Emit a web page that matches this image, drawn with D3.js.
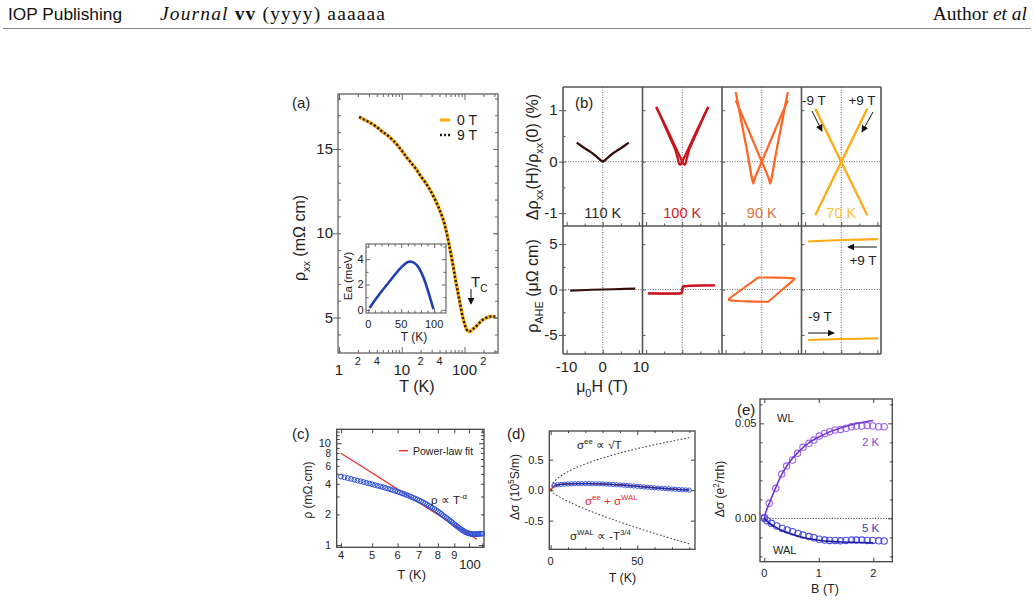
<!DOCTYPE html>
<html><head><meta charset="utf-8">
<script src="https://cdn.jsdelivr.net/npm/d3@7"></script>
<style>
body{margin:0;background:#fff}
svg{display:block}
text{font-family:"Liberation Sans",Arial,Helvetica,sans-serif}
</style></head>
<body><svg id="c" width="1034" height="602"></svg>
<script>
// ---------------- DATA ----------------
// (a) resistivity vs T
const aT      = [2.1,2.5,3,4,5,6,8,10,12,14,17,20,25,30,35,40,45,50,55,60,65,70,75,80,85,90,95,100,105,110,115,120,130,140,150,170,190,220,250,280,310];
const aRho0T  = [16.9,16.75,16.6,16.3,16.0,15.8,15.35,14.9,14.5,14.2,13.8,13.4,12.9,12.4,11.9,11.4,10.9,10.3,9.6,8.9,8.2,7.5,6.9,6.35,5.85,5.35,4.95,4.65,4.4,4.25,4.18,4.17,4.25,4.35,4.44,4.66,4.83,4.98,5.05,5.07,5.05];
const aRho9T  = [16.9,16.75,16.6,16.3,16.0,15.8,15.35,14.9,14.5,14.2,13.8,13.4,12.9,12.4,11.9,11.4,10.9,10.3,9.6,8.9,8.2,7.5,6.9,6.35,5.85,5.35,4.95,4.65,4.4,4.25,4.18,4.17,4.25,4.35,4.44,4.66,4.83,4.98,5.05,5.07,5.05];
const aXTickVals = [1,2,3,4,5,6,7,8,9,10,20,30,40,50,60,70,80,90,100,200,300];
const aXLabels = [[1,"1",1],[2,"2",0],[4,"4",0],[10,"10",1],[20,"2",0],[40,"4",0],[100,"100",1],[200,"2",0]];
const aYLabels = [5,10,15];
// (a) inset: activation energy
const eaT   = [2,10,20,30,40,50,60,65,70,75,80,85,90,95,99];
const eaVal = [0.15,0.75,1.45,2.1,2.75,3.35,3.78,3.8,3.7,3.45,3.0,2.4,1.6,0.75,0.05];

// (b) top: magnetoresistance (%) ; bottom: anomalous Hall (μΩ cm)
const bTemps  = ["110 K","100 K","90 K","70 K"];
const mr110H = [-7.2,-6,-5,-4,-3,-2,-1.5,-1,-0.5,0,0.5,1,1.5,2,3,4,5,6,7.2];
const mr110V = [0.37,0.31,0.26,0.215,0.17,0.115,0.085,0.055,0.02,0,0.02,0.055,0.085,0.115,0.17,0.215,0.26,0.31,0.37];
const mr100UpH = [-7.2,-6,-4,-2,-1.2,-0.8,-0.4,0,0.3,0.6,0.9,1.2,2,4,6,7.2];
const mr100UpV = [1.06,0.89,0.6,0.3,0.18,0.12,0.06,0.0,-0.04,-0.06,-0.04,0.05,0.25,0.56,0.88,1.06];
const mr100DnH = [7.2,6,4,2,1.2,0.8,0.4,0,-0.3,-0.6,-0.9,-1.2,-2,-4,-6,-7.2];
const mr100DnV = [1.06,0.89,0.6,0.3,0.18,0.12,0.06,0.0,-0.04,-0.06,-0.04,0.05,0.25,0.56,0.88,1.06];
const mr90DnH = [7.2,5,3,1,0,-1,-1.8,-2.1,-2.3,-2.5,-2.8,-4,-5.5,-7.2];
const mr90DnV = [1.19,0.83,0.5,0.165,0,-0.165,-0.3,-0.37,-0.42,-0.39,-0.3,0.19,0.73,1.35];
const mr90UpH = [-7.2,-5,-3,-1,0,1,1.8,2.1,2.3,2.5,2.8,4,5.5,7.2];
const mr90UpV = [1.19,0.83,0.5,0.165,0,-0.165,-0.3,-0.37,-0.42,-0.39,-0.3,0.19,0.73,1.35];
const mr70AH = [-7.2,7.2], mr70AV = [1.03,-1.04];
const mr70BH = [-7.2,7.2], mr70BV = [-1.04,1.03];

const ah110H = [-9,-6,-3,0,3,6,9];
const ah110V = [-0.12,-0.08,-0.03,0.0,0.04,0.07,0.1];
const ah100UpH = [-9.5,-6,-3,-1,-0.3,0,0.15,0.3,0.6,2,5,9];
const ah100UpV = [-0.42,-0.45,-0.45,-0.45,-0.43,-0.3,0.1,0.3,0.35,0.4,0.45,0.45];
const ah100DnH = [9,5,2,0.6,0.2,0,-0.1,-0.3,-1,-3,-6,-9.5];
const ah100DnV = [0.47,0.44,0.42,0.38,0.35,0.2,-0.2,-0.38,-0.42,-0.43,-0.44,-0.4];
const ah90DnH = [9.2,8,6,4,2,0,-0.95,-3,-5,-7,-9.3];
const ah90DnV = [1.22,1.26,1.3,1.31,1.32,1.33,1.33,0.74,0.17,-0.41,-1.07];
const ah90UpH = [-9.3,-8,-6,-4,-2,0,1.7,3,5,7,9.25];
const ah90UpV = [-1.15,-1.22,-1.27,-1.3,-1.33,-1.35,-1.37,-0.93,-0.25,0.43,1.2];
const ah70PH = [-9.2,-5,0,5,10.2], ah70PV = [5.3,5.38,5.45,5.5,5.55];
const ah70NH = [-9.2,-5,0,5,10.2], ah70NV = [-5.55,-5.5,-5.45,-5.42,-5.38];

// (c) log-log resistivity
const cT   = [40,41,42,43,44,45,46,47,48,49,50,51,52,53,54,55,56,57,58,59,60,61,62,63,64,65,66,67,68,69,70,71,72,73,74,75,76,77,78,79,80,81,82,83,84,85,86,87,88,89,90,91,92,93,94,95,96,97,98,99,100,101,102,103,104,105,106,107,108,109,110];
const cRho = [4.70,4.62,4.54,4.46,4.38,4.30,4.23,4.16,4.09,4.02,3.95,3.88,3.82,3.76,3.70,3.64,3.58,3.52,3.46,3.40,3.34,3.28,3.22,3.16,3.10,3.04,2.98,2.92,2.86,2.80,2.74,2.68,2.62,2.56,2.50,2.44,2.38,2.32,2.26,2.20,2.14,2.08,2.02,1.96,1.90,1.85,1.80,1.75,1.70,1.65,1.60,1.56,1.52,1.48,1.44,1.41,1.38,1.35,1.33,1.31,1.30,1.29,1.28,1.28,1.28,1.28,1.28,1.28,1.29,1.29,1.29];
const cFitT = [40,105.7], cFitRho = [7.97,1.14];
const cXLabels = [[40,"4"],[50,"5"],[60,"6"],[70,"7"],[80,"8"],[90,"9"]];
const cYLabels = [[10,"10"],[8,"8"],[6,"6"],[4,"4"],[2,"2"],[1,"1"]];

// (d) conductivity correction
const dT   = [2,4,6,8,10,12,14,16,18,20,22,24,26,28,30,32,34,36,38,40,42,44,46,48,50,52,54,56,58,60,62,64,66,68,70,72,74,76,78,80];
const dSig = [0.080,0.088,0.094,0.098,0.101,0.104,0.106,0.107,0.108,0.108,0.108,0.107,0.106,0.104,0.102,0.099,0.096,0.093,0.089,0.085,0.081,0.077,0.072,0.068,0.063,0.058,0.053,0.048,0.043,0.038,0.034,0.030,0.026,0.022,0.018,0.014,0.010,0.007,0.004,0.001];
const dFitT = [0,1,2,3,5,8,12,20,30,40,50,60,70,80];
const dFitV = [0,0.04,0.065,0.078,0.09,0.1,0.105,0.108,0.102,0.086,0.064,0.04,0.02,0.003];
const dThT  = [0,1,2.5,5,10,20,30,40,50,60,70,80];
const dEE   = [0,0.096,0.152,0.215,0.304,0.43,0.527,0.608,0.68,0.745,0.804,0.86];
const dWAL  = [0,-0.033,-0.065,-0.11,-0.185,-0.311,-0.421,-0.523,-0.619,-0.709,-0.796,-0.88];

// (e) magnetoconductance
const e2B = [0,0.09,0.21,0.32,0.41,0.52,0.61,0.71,0.82,0.91,1.01,1.11,1.2,1.3,1.4,1.5,1.6,1.69,1.79,1.89,1.99,2.1,2.2];
const e2V = [0.0005,0.0079,0.0158,0.0233,0.0275,0.0307,0.0342,0.0374,0.0395,0.0412,0.0433,0.0447,0.0456,0.0465,0.0468,0.0474,0.0482,0.0486,0.0486,0.0488,0.0486,0.0482,0.0482];
const e5B = [0,0.05,0.13,0.23,0.33,0.42,0.52,0.62,0.71,0.82,0.91,1.01,1.11,1.2,1.3,1.4,1.5,1.6,1.69,1.79,1.89,1.99,2.1,2.2];
const e5V = [0,-0.0012,-0.0026,-0.004,-0.0053,-0.0061,-0.007,-0.0079,-0.0088,-0.0096,-0.0102,-0.011,-0.0114,-0.0116,-0.0116,-0.0118,-0.0116,-0.0114,-0.0114,-0.0114,-0.0116,-0.0116,-0.0118,-0.0119];
const e2FitB = [0,0.02,0.05,0.1,0.2,0.3,0.4,0.5,0.6,0.7,0.8,0.9,1.0,1.2,1.4,1.6,1.8,2.0];
const e2FitV = [0,0.0025,0.005,0.0085,0.0155,0.022,0.027,0.031,0.0342,0.037,0.0393,0.0412,0.0428,0.0455,0.0476,0.0493,0.0505,0.0515];
const e5FitB = [0,0.05,0.1,0.2,0.3,0.4,0.6,0.8,1.0,1.2,1.4,1.6,1.8,2.0];
const e5FitV = [0,-0.0015,-0.0027,-0.0045,-0.006,-0.0072,-0.0092,-0.0106,-0.0115,-0.0121,-0.0124,-0.0126,-0.0127,-0.0128];

// ---------------- HELPERS ----------------
const S = d3.select("#c");
const defs = S.append("defs");
defs.append("marker").attr("id","arr").attr("viewBox","0 0 10 10").attr("refX",9).attr("refY",5)
  .attr("markerWidth",7).attr("markerHeight",7).attr("markerUnits","userSpaceOnUse").attr("orient","auto")
  .append("path").attr("d","M0,0 L10,5 L0,10 z").attr("fill","#111");

function rich(g, x, y, parts, o = {}) {
  const size = o.size || 12;
  const t = g.append("text").attr("x", x).attr("y", y).attr("font-size", size)
    .attr("text-anchor", o.anchor || "start").attr("fill", o.fill || "#222");
  if (o.rot) t.attr("transform", `rotate(-90,${x},${y})`);
  let cur = 0;
  parts.forEach(p => {
    const s = typeof p === "string" ? p : p[0];
    const type = typeof p === "string" ? null : p[1];
    const target = type === "sub" ? size * 0.32 : type === "sup" ? -size * 0.45 : 0;
    const sp = t.append("tspan").attr("dy", (target - cur).toFixed(2)).text(s);
    if (type) sp.attr("font-size", (size * 0.68).toFixed(1));
    cur = target;
  });
  return t;
}
function lab(g, x, y, s, size, anchor, fill) {
  return g.append("text").attr("x", x).attr("y", y).attr("font-size", size)
    .attr("text-anchor", anchor || "middle").attr("fill", fill || "#222").text(s);
}
function tk(g, scale, vals, orient, tx, ty, size, color, w) {
  const f = orient === "b" ? d3.axisBottom : orient === "t" ? d3.axisTop : orient === "l" ? d3.axisLeft : d3.axisRight;
  const gg = g.append("g").attr("transform", `translate(${tx},${ty})`)
    .call(f(scale).tickValues(vals).tickSize(size).tickFormat(""));
  gg.select(".domain").remove();
  gg.selectAll("line").attr("stroke", color || "#444").attr("stroke-width", w || 1);
}
function frame(g, x0, y0, x1, y1, color, w) {
  g.append("rect").attr("x", x0).attr("y", y0).attr("width", x1 - x0).attr("height", y1 - y0)
    .attr("fill", "none").attr("stroke", color || "#444").attr("stroke-width", w || 1.2);
}

// ---------------- HEADER ----------------
S.append("text").attr("x", 8).attr("y", 20).attr("font-size", 16.5).attr("fill", "#111")
  .attr("textLength", 114).attr("lengthAdjust", "spacingAndGlyphs").text("IOP Publishing");
const jn = S.append("text").attr("x", 160).attr("y", 20).attr("font-size", 19.5).attr("fill", "#111")
  .attr("textLength", 225).attr("lengthAdjust", "spacing")
  .style("font-family", '"Liberation Serif","DejaVu Serif",serif');
jn.append("tspan").attr("font-style", "italic").text("Journal ");
jn.append("tspan").attr("font-weight", "bold").text("vv");
jn.append("tspan").text(" (yyyy) aaaaaa");
const au = S.append("text").attr("x", 1027).attr("y", 20).attr("font-size", 19.5).attr("text-anchor", "end").attr("fill", "#111")
  .style("font-family", '"Liberation Serif","DejaVu Serif",serif');
au.append("tspan").text("Author ");
au.append("tspan").attr("font-style", "italic").text("et al");
S.append("line").attr("x1", 3).attr("x2", 1031).attr("y1", 28.5).attr("y2", 28.5).attr("stroke", "#888").attr("stroke-width", 1);

// ---------------- PANEL (a) ----------------
const ga = S.append("g");
const ax = d3.scaleLog().domain([1, 330]).range([339, 497]);
const ay = d3.scaleLinear().domain([2.9, 18.26]).range([353, 94]);
frame(ga, 338, 94, 498, 353, "#777", 1.5);
const aMinorX = aXTickVals.filter(v => ![1, 10, 100].includes(v));
tk(ga, ax, [1, 10, 100], "b", 0, 353, -6, "#666");
tk(ga, ax, aMinorX, "b", 0, 353, -3, "#666");
tk(ga, ax, [1, 10, 100], "t", 0, 94, -6, "#666");
tk(ga, ax, aMinorX, "t", 0, 94, -3, "#666");
const aYMinor = [3,4,5,6,7,8,9,10,11,12,13,14,15,16,17,18];
tk(ga, ay, aYLabels, "l", 338, 0, 5, "#666");
tk(ga, ay, aYMinor, "l", 338, 0, -3, "#666");
tk(ga, ay, aYMinor, "r", 498, 0, -3, "#666");
tk(ga, ay, aYLabels, "r", 498, 0, -5, "#666");
aYLabels.forEach(v => lab(ga, 333, ay(v) + 5.2, String(v), 15, "end"));
aXLabels.forEach(([v, s, big]) => big ? lab(ga, ax(v), 375, s, 15) : lab(ga, ax(v), 365, s, 11));
lab(ga, 417, 392, "T (K)", 16);
rich(ga, 305, 238, ["ρ", ["xx", "sub"], " (mΩ cm)"], { size: 16, anchor: "middle", rot: true });
lab(ga, 292, 108, "(a)", 15, "start");

const aLine = d3.line().x(d => ax(d[0])).y(d => ay(d[1])).curve(d3.curveCatmullRom);
ga.append("path").attr("d", aLine(d3.zip(aT, aRho0T))).attr("fill", "none").attr("stroke", "#ffa70f").attr("stroke-width", 3.4);
ga.append("path").attr("d", aLine(d3.zip(aT, aRho9T))).attr("fill", "none").attr("stroke", "#1a1a1a").attr("stroke-width", 2.4).attr("stroke-dasharray", "2,2.2");
// legend
ga.append("line").attr("x1", 440).attr("x2", 450).attr("y1", 120).attr("y2", 120).attr("stroke", "#ffa70f").attr("stroke-width", 3);
lab(ga, 457, 124.5, "0 T", 14, "start");
ga.append("line").attr("x1", 440).attr("x2", 451).attr("y1", 135).attr("y2", 135).attr("stroke", "#1a1a1a").attr("stroke-width", 2.6).attr("stroke-dasharray", "2,2");
lab(ga, 457, 140, "9 T", 14, "start");
// Tc
rich(ga, 471, 287, ["T", ["C", "sub"]], { size: 15 });
ga.append("line").attr("x1", 471).attr("x2", 471).attr("y1", 289).attr("y2", 304).attr("stroke", "#111").attr("stroke-width", 1).attr("marker-end", "url(#arr)");

// inset
const ix = d3.scaleLinear().domain([-3.5, 118]).range([366, 446]);
const iy = d3.scaleLinear().domain([-0.25, 5.2]).range([313, 244]);
ga.append("rect").attr("x", 366).attr("y", 244).attr("width", 80).attr("height", 69).attr("fill", "#fff").attr("stroke", "#777").attr("stroke-width", 1.3);
tk(ga, ix, [0, 50, 100], "b", 0, 313, -4, "#666");
tk(ga, ix, [10, 20, 30, 40, 60, 70, 80, 90, 110], "b", 0, 313, -2.5, "#666");
tk(ga, ix, [0, 50, 100], "t", 0, 244, -4, "#666");
tk(ga, ix, [10, 20, 30, 40, 60, 70, 80, 90, 110], "t", 0, 244, -2.5, "#666");
tk(ga, iy, [0, 2, 4], "l", 366, 0, -4, "#666");
tk(ga, iy, [1, 3, 5], "l", 366, 0, -2.5, "#666");
tk(ga, iy, [0, 2, 4], "r", 446, 0, -4, "#666");
tk(ga, iy, [1, 3, 5], "r", 446, 0, -2.5, "#666");
[0, 2, 4].forEach(v => lab(ga, 363.5, iy(v) + 3.8, String(v), 11, "end"));
[0, 50, 100].forEach(v => lab(ga, ix(v), 328, String(v), 11));
lab(ga, 414, 341, "T (K)", 12);
lab(ga, 0, 0, "Ea (meV)", 11.5).attr("transform", "translate(352,276) rotate(-90)");
ga.append("path").attr("d", d3.line().x(d => ix(d[0])).y(d => iy(d[1])).curve(d3.curveCatmullRom)(d3.zip(eaT, eaVal)))
  .attr("fill", "none").attr("stroke", "#1f3fb3").attr("stroke-width", 2.6);

// ---------------- PANEL (b) ----------------
const gb = S.append("g");
const bL = [563, 642.5, 722, 801.5], bW = 79.5, bR = 881;
const bTop = d3.scaleLinear().domain([-1.25, 1.45]).range([226, 87]);
const bBot = d3.scaleLinear().domain([-7.1, 7.0]).range([354, 226]);
const bColors = ["#3a0d0d", "#c8161e", "#ff6524", "#ffab14"];
const bLabelColors = ["#2a2a2a", "#cc1d2a", "#d9743a", "#ffbf3a"];
const bX = bL.map(L => d3.scaleLinear().domain([-11, 11]).range([L, L + bW]));
const mrSets = [
  [[mr110H, mr110V]],
  [[mr100UpH, mr100UpV], [mr100DnH, mr100DnV]],
  [[mr90DnH, mr90DnV], [mr90UpH, mr90UpV]],
  [[mr70AH, mr70AV], [mr70BH, mr70BV]]
];
const ahSets = [
  [[ah110H, ah110V]],
  [[ah100UpH, ah100UpV], [ah100DnH, ah100DnV]],
  [[ah90DnH, ah90DnV], [ah90UpH, ah90UpV]],
  [[ah70PH, ah70PV], [ah70NH, ah70NV]]
];
bX.forEach((xs, i) => {
  gb.append("line").attr("x1", xs(0)).attr("x2", xs(0)).attr("y1", 87).attr("y2", 354).attr("stroke", "#555").attr("stroke-width", 0.9).attr("stroke-dasharray", "1,1.5");
  gb.append("line").attr("x1", xs(-11)).attr("x2", xs(11)).attr("y1", bTop(0)).attr("y2", bTop(0)).attr("stroke", "#555").attr("stroke-width", 0.9).attr("stroke-dasharray", "1,1.5");
  gb.append("line").attr("x1", xs(-11)).attr("x2", xs(11)).attr("y1", bBot(0)).attr("y2", bBot(0)).attr("stroke", "#555").attr("stroke-width", 0.9).attr("stroke-dasharray", "1,1.5");
  tk(gb, xs, [-10, 0, 10], "b", 0, 354, -4, "#555");
  tk(gb, xs, [-5, 5], "b", 0, 354, -2.5, "#555");
  tk(gb, xs, [-10, 0, 10], "b", 0, 226, -4, "#555");
  tk(gb, xs, [-5, 5], "b", 0, 226, -2.5, "#555");
  tk(gb, bTop, [-1, 0, 1], "r", bL[i], 0, 3, "#555");
  tk(gb, bBot, [-5, 0, 5], "r", bL[i], 0, 3, "#555");
  const top = d3.line().x(d => xs(d[0])).y(d => bTop(d[1]));
  const bot = d3.line().x(d => xs(d[0])).y(d => bBot(d[1]));
  mrSets[i].forEach(([h, v]) => gb.append("path").attr("d", top(d3.zip(h, v))).attr("fill", "none").attr("stroke", bColors[i]).attr("stroke-width", 2.3).attr("stroke-linejoin", "round"));
  ahSets[i].forEach(([h, v]) => gb.append("path").attr("d", bot(d3.zip(h, v))).attr("fill", "none").attr("stroke", bColors[i]).attr("stroke-width", 2.1).attr("stroke-linejoin", "round"));
  lab(gb, xs(0), 218, bTemps[i], 14.5, "middle", bLabelColors[i]);
});
gb.append("line").attr("x1", bL[0]).attr("x2", bR).attr("y1", 87).attr("y2", 87).attr("stroke", "#555").attr("stroke-width", 1.5);
gb.append("line").attr("x1", bL[0]).attr("x2", bR).attr("y1", 226).attr("y2", 226).attr("stroke", "#555").attr("stroke-width", 1.5);
gb.append("line").attr("x1", bL[0]).attr("x2", bR).attr("y1", 354).attr("y2", 354).attr("stroke", "#555").attr("stroke-width", 1.5);
bL.concat([bR]).forEach(x => gb.append("line").attr("x1", x).attr("x2", x).attr("y1", 87).attr("y2", 354).attr("stroke", "#555").attr("stroke-width", 1.6));
tk(gb, bTop, [-1, 0, 1], "l", bL[0], 0, 4, "#555");
tk(gb, bTop, [-0.5, 0.5], "l", bL[0], 0, -2.5, "#555");
tk(gb, bBot, [-5, 0, 5], "l", bL[0], 0, 4, "#555");
tk(gb, bBot, [-2.5, 2.5], "l", bL[0], 0, -2.5, "#555");
[1, 0, -1].forEach(v => lab(gb, 557.5, bTop(v) + 5.2, String(v), 15, "end"));
[5, 0, -5].forEach(v => lab(gb, 557.5, bBot(v) + 5.2, String(v), 15, "end"));
[-10, 0, 10].forEach(v => lab(gb, bX[0](v) + (v === 10 ? 2 : 0), 372, String(v), 15));
rich(gb, 602, 392, ["μ", ["0", "sub"], "H (T)"], { size: 16, anchor: "middle" });
rich(gb, 538, 157, ["Δρ", ["xx", "sub"], "(H)/ρ", ["xx", "sub"], "(0) (%)"], { size: 16, anchor: "middle", rot: true });
rich(gb, 538, 286, ["ρ", ["AHE", "sub"], " (μΩ cm)"], { size: 16, anchor: "middle", rot: true });
lab(gb, 575, 108, "(b)", 15, "start");
lab(gb, 814, 105, "-9 T", 13.5);
lab(gb, 862, 105, "+9 T", 13.5);
gb.append("line").attr("x1", 812).attr("y1", 111).attr("x2", 822).attr("y2", 131).attr("stroke", "#111").attr("stroke-width", 1).attr("marker-end", "url(#arr)");
gb.append("line").attr("x1", 873).attr("y1", 112).attr("x2", 862).attr("y2", 132).attr("stroke", "#111").attr("stroke-width", 1).attr("marker-end", "url(#arr)");
gb.append("line").attr("x1", 877).attr("y1", 247).attr("x2", 848).attr("y2", 247).attr("stroke", "#111").attr("stroke-width", 1).attr("marker-end", "url(#arr)");
lab(gb, 863, 265, "+9 T", 13.5);
lab(gb, 820, 321, "-9 T", 13.5);
gb.append("line").attr("x1", 808).attr("y1", 333).attr("x2", 834).attr("y2", 333).attr("stroke", "#111").attr("stroke-width", 1).attr("marker-end", "url(#arr)");

// ---------------- PANEL (c) ----------------
const gc = S.append("g");
const cx = d3.scaleLog().domain([38.8, 111.3]).range([336.7, 484]);
const cy = d3.scaleLog().domain([0.95, 13.7]).range([547.3, 429.3]);
frame(gc, 336.7, 429.3, 484, 547.3, "#444", 1.3);
const cXT = [40, 50, 60, 70, 80, 90, 100, 110];
tk(gc, cx, cXT, "b", 0, 547.3, -4);
tk(gc, cx, cXT, "t", 0, 429.3, -4);
tk(gc, cy, [1, 10], "l", 336.7, 0, -5);
tk(gc, cy, [2, 3, 4, 5, 6, 7, 8, 9, 11, 12, 13], "l", 336.7, 0, -3);
tk(gc, cy, [1, 10], "r", 484, 0, -5);
tk(gc, cy, [2, 3, 4, 5, 6, 7, 8, 9, 11, 12, 13], "r", 484, 0, -3);
cYLabels.forEach(([v, s]) => lab(gc, 331, cy(v) + 3.8, s, (v === 8 || v === 6) ? 10 : 11, "end"));
cXLabels.forEach(([v, s]) => lab(gc, cx(v), 558.5, s, 11));
lab(gc, 470, 568.5, "100", 13);
lab(gc, 411.7, 579, "T (K)", 13);
rich(gc, 312, 490, ["ρ (mΩ·cm)"], { size: 12, anchor: "middle", rot: true });
lab(gc, 292, 439, "(c)", 15, "start");
gc.append("path").attr("d", d3.line().x(d => cx(d[0])).y(d => cy(d[1]))(d3.zip(cFitT, cFitRho))).attr("stroke", "#ee2c2c").attr("stroke-width", 1.3).attr("fill", "none");
gc.selectAll("circle.c").data(d3.zip(cT, cRho)).join("circle").attr("class", "c")
  .attr("cx", d => cx(d[0])).attr("cy", d => cy(d[1])).attr("r", 2.4)
  .attr("fill", "none").attr("stroke", "#2a4fd6").attr("stroke-width", 1);
gc.append("line").attr("x1", 399).attr("x2", 408).attr("y1", 450.7).attr("y2", 450.7).attr("stroke", "#ee2c2c").attr("stroke-width", 1.4);
lab(gc, 413, 454.5, "Power-law fit", 10.5, "start");
rich(gc, 431, 504, ["ρ ∝ T", ["-α", "sup"]], { size: 11.5 });

// ---------------- PANEL (d) ----------------
const gd = S.append("g");
const dx = d3.scaleLinear().domain([-0.8, 83.3]).range([549.3, 695]);
const dy = d3.scaleLinear().domain([-0.97, 0.97]).range([549.3, 431]);
frame(gd, 549.3, 431, 695, 549.3, "#444", 1.3);
tk(gd, dx, [0, 50], "b", 0, 549.3, -4);
tk(gd, dx, [10, 20, 30, 40, 60, 70, 80], "b", 0, 549.3, -2);
tk(gd, dx, [0, 50], "t", 0, 431, -4);
tk(gd, dx, [10, 20, 30, 40, 60, 70, 80], "t", 0, 431, -2);
tk(gd, dy, [-0.5, 0, 0.5], "l", 549.3, 0, -4);
tk(gd, dy, [-0.5, 0, 0.5], "r", 695, 0, -4);
[[0.5, "0.5"], [0, "0.0"], [-0.5, "-0.5"]].forEach(([v, s]) => lab(gd, 543.5, dy(v) + 4, s, 11, "end"));
[0, 50].forEach(v => lab(gd, dx(v), 564.5, String(v), 11));
lab(gd, 622.5, 582, "T (K)", 12.5);
rich(gd, 519, 487, ["Δσ (10", ["5", "sup"], "S/m)"], { size: 12, anchor: "middle", rot: true });
lab(gd, 507, 439, "(d)", 15, "start");
const dLine = d3.line().x(d => dx(d[0])).y(d => dy(d[1])).curve(d3.curveMonotoneX);
gd.append("path").attr("d", dLine(d3.zip(dThT, dEE))).attr("fill", "none").attr("stroke", "#444").attr("stroke-width", 1.1).attr("stroke-dasharray", "1.6,2");
gd.append("path").attr("d", dLine(d3.zip(dThT, dWAL))).attr("fill", "none").attr("stroke", "#444").attr("stroke-width", 1.1).attr("stroke-dasharray", "1.6,2");
gd.append("path").attr("d", dLine(d3.zip(dFitT, dFitV))).attr("fill", "none").attr("stroke", "#e8262a").attr("stroke-width", 1.6);
gd.selectAll("circle.d").data(d3.zip(dT, dSig)).join("circle").attr("class", "d")
  .attr("cx", d => dx(d[0])).attr("cy", d => dy(d[1])).attr("r", 2.1)
  .attr("fill", "none").attr("stroke", "#3353e0").attr("stroke-width", 1);
gd.append("path").attr("d", dLine(d3.zip(dT, dSig))).attr("fill", "none").attr("stroke", "#1a2f9e").attr("stroke-width", 1.2);
rich(gd, 577, 449, ["σ", ["ee", "sup"], " ∝ √T"], { size: 11.5 });
rich(gd, 585, 505, ["σ", ["ee", "sup"], " + σ", ["WAL", "sup"]], { size: 11.5, fill: "#e8262a" });
rich(gd, 570, 540, ["σ", ["WAL", "sup"], " ∝ -T", ["3/4", "sup"]], { size: 11.5 });

// ---------------- PANEL (e) ----------------
const ge = S.append("g");
const ex = d3.scaleLinear().domain([-0.079, 2.35]).range([760, 892.3]);
const ey = d3.scaleLinear().domain([-0.0228, 0.0628]).range([561.7, 399]);
frame(ge, 760, 399, 892.3, 561.7, "#444", 1.3);
tk(ge, ex, [0, 1, 2], "b", 0, 561.7, -4);
tk(ge, ex, [0, 1, 2], "t", 0, 399, -4);
tk(ge, ey, [0, 0.05], "l", 760, 0, -4);
tk(ge, ey, [-0.02, -0.01, 0.01, 0.02, 0.03, 0.04, 0.06], "l", 760, 0, -2.5);
tk(ge, ey, [0, 0.05], "r", 892.3, 0, -4);
tk(ge, ey, [-0.02, -0.01, 0.01, 0.02, 0.03, 0.04, 0.06], "r", 892.3, 0, -2.5);
[[0.05, "0.05"], [0, "0.00"]].forEach(([v, s]) => lab(ge, 756.5, ey(v) + 4, s, 11, "end"));
[0, 1, 2].forEach(v => lab(ge, ex(v), 577, String(v), 11));
lab(ge, 825, 593, "B (T)", 12.5);
rich(ge, 724, 489, ["Δσ (e", ["2", "sup"], "/πh)"], { size: 12, anchor: "middle", rot: true });
lab(ge, 737, 415, "(e)", 15, "start");
ge.append("line").attr("x1", ex(0)).attr("x2", 892.3).attr("y1", ey(0)).attr("y2", ey(0)).attr("stroke", "#333").attr("stroke-width", 1).attr("stroke-dasharray", "1.2,1.5");
const eLine = d3.line().x(d => ex(d[0])).y(d => ey(d[1])).curve(d3.curveMonotoneX);
ge.selectAll("circle.e2").data(d3.zip(e2B, e2V)).join("circle").attr("class", "e2")
  .attr("cx", d => ex(d[0])).attr("cy", d => ey(d[1])).attr("r", 3.2)
  .attr("fill", "none").attr("stroke", "#9c63ee").attr("stroke-width", 1.1);
ge.selectAll("circle.e5").data(d3.zip(e5B, e5V)).join("circle").attr("class", "e5")
  .attr("cx", d => ex(d[0])).attr("cy", d => ey(d[1])).attr("r", 3.2)
  .attr("fill", "none").attr("stroke", "#4a4ae6").attr("stroke-width", 1.1);
ge.append("path").attr("d", eLine(d3.zip(e2FitB, e2FitV))).attr("fill", "none").attr("stroke", "#7436d0").attr("stroke-width", 1.6);
ge.append("path").attr("d", eLine(d3.zip(e5FitB, e5FitV))).attr("fill", "none").attr("stroke", "#1c1c9c").attr("stroke-width", 1.6);
lab(ge, 777, 421.7, "WL", 11, "start");
lab(ge, 773, 554, "WAL", 11, "start");
lab(ge, 862, 445.7, "2 K", 11.5, "start", "#8a45d8");
lab(ge, 862, 531.7, "5 K", 11.5, "start", "#3a3ad0");
</script></body></html>
